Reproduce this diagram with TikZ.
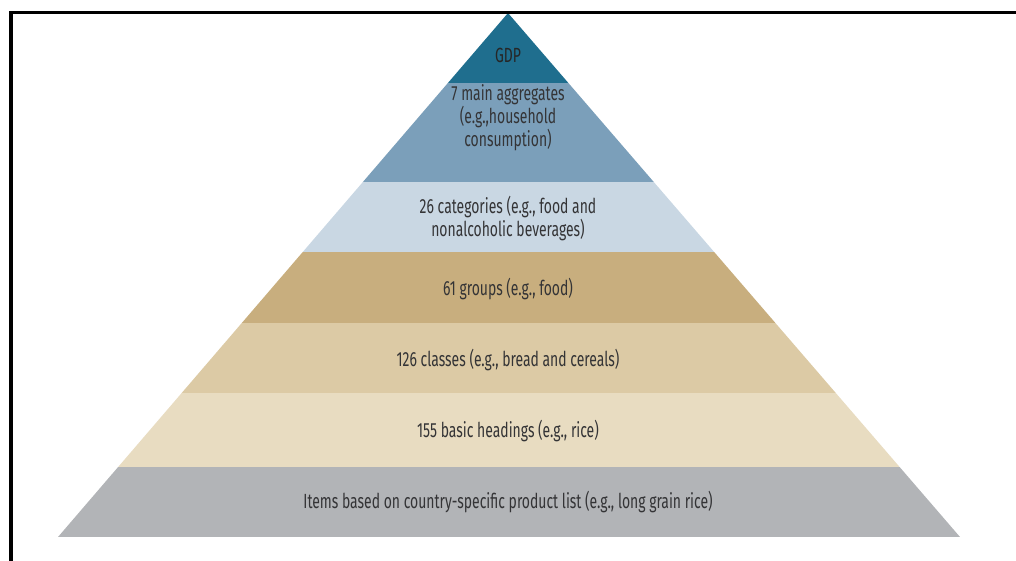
\documentclass[tikz,border=0pt]{standalone}
\usepackage{fontspec}
\setmainfont{Fira Sans}[FakeStretch=0.68]
\usetikzlibrary{positioning}
\usepackage{xcolor}

\definecolor{gdpblue}{HTML}{1F6E8E}
\definecolor{aggblue}{HTML}{7B9FBA}
\definecolor{catblue}{HTML}{C9D7E3}
\definecolor{grouptan}{HTML}{C8AE7E}
\definecolor{classtan}{HTML}{DCCAA5}
\definecolor{headtan}{HTML}{E8DCC1}
\definecolor{itemgrey}{HTML}{B2B4B7}
\definecolor{labelgrey}{HTML}{343436}

\begin{document}
\begin{tikzpicture}[x=1pt, y=-1pt]
                \tikzstyle{level} = [text=labelgrey, align=center, inner sep=0pt, font=\fontsize{20.5}{23}\selectfont];

                \useasboundingbox (0,0) rectangle (1016,561);

                % pyramid corners
                \coordinate (apex) at (508,13);
                \coordinate (baseL) at (58,537);
                \coordinate (baseR) at (960,537);

                % bands
                \begin{scope}
                    \clip (apex) -- (baseL) -- (baseR) -- cycle;
                    \fill[gdpblue] (0,0) rectangle (1016,83);
                    \fill[aggblue] (0,83) rectangle (1016,182);
                    \fill[catblue] (0,182) rectangle (1016,252);
                    \fill[grouptan] (0,252) rectangle (1016,323);
                    \fill[classtan] (0,323) rectangle (1016,393);
                    \fill[headtan] (0,393) rectangle (1016,467);
                    \fill[itemgrey] (0,467) rectangle (1016,537);
                \end{scope}

                % frame
                \draw[line width=3.5pt] (11,561) -- (11,12.5) -- (1016,12.5);

                \node[level, text=black!85](GDP) at (508,55) {GDP};
                \node[level](AGG) at (508,118) {7 main aggregates\\(e.g.,household\\consumption)};
                \node[level](CAT) at (508,219) {26 categories (e.g., food and\\nonalcoholic beverages)};
                \node[level](GRP) at (508,289) {61 groups (e.g., food)};
                \node[level](CLS) at (508,360) {126 classes (e.g., bread and cereals)};
                \node[level](BH) at (508,431) {155 basic headings (e.g., rice)};
                \node[level](ITM) at (508,502) {Items based on country-specific product list (e.g., long grain rice)};
            \end{tikzpicture}
\end{document}
